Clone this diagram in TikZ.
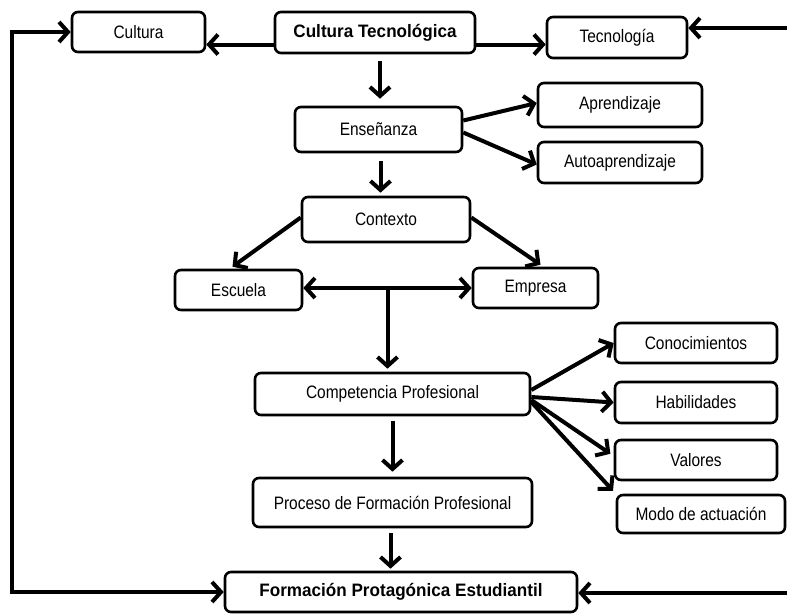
\documentclass[tikz,border=0pt]{standalone}
\usepackage{fontspec}
\setmainfont{Liberation Sans}[FakeStretch=0.86]
\newfontfamily\negrita{Liberation Sans}[FakeStretch=0.95]
\usetikzlibrary{arrows.meta,calc}
\begin{document}
\begin{tikzpicture}[x=1pt,y=-1pt,
	caja/.style={draw,line width=2.6pt,rounded corners=6pt,inner sep=0pt,
		font=\fontsize{18}{20}\selectfont},
	flecha/.style={line width=4pt,-{Straight Barb[length=9pt,width=20pt]}},
	dflecha/.style={line width=4pt,
		{Straight Barb[length=9pt,width=20pt]}-{Straight Barb[length=9pt,width=20pt]}}]
	\useasboundingbox (0,0) rectangle (787,614);
	\foreach \n/\x/\y/\w/\h/\texn in {cul/138.5/32/133/40/Cultura,
	ct/375/32.5/200/41/{\negrita\bfseries Cultura Tecnológica},
	tec/617/37.5/140/41/Tecnología,
	ens/378.5/129.5/167/45/Enseñanza,
	apr/620/105/164/44/Aprendizaje,
	aut/620/162.5/164/41/Autoaprendizaje,
	con/386/219.5/168/45/Contexto,
	esc/238.5/290/127/40/Escuela,
	emp/535.5/288/125/40/Empresa,
	com/392.5/394/275/42/Competencia Profesional,
	cono/696/343/162/40/Conocimientos,
	hab/696/402.5/162/41/Habilidades,
	val/696/460/162/40/Valores,
	modo/701/514/168/38/Modo de actuación,
	pro/392.5/502.5/279/49/Proceso de Formación Profesional,
	fpe/401/592/352/40/{\negrita\bfseries Formación Protagónica Estudiantil}}
	\path (\x,\y) node[caja,minimum width=\w,minimum height=\h](\n){\texn};
	\draw[flecha] ([yshift=-12pt]ct.west) -- ([yshift=-12pt]ct.west -| cul.east);
	\draw[flecha] ([yshift=-12pt]ct.east) -- ([yshift=-12pt]ct.east -| tec.west);
	\coordinate (rt) at (787,28);
	\draw[flecha] (rt) -- (rt -| tec.east);
	\draw[flecha,shorten <=7pt,shorten >=7pt] ([xshift=5pt]ct.south) -- ([xshift=5pt]ct.south |- ens.north);
	\draw[flecha,shorten <=8pt,shorten >=3pt] ([xshift=2pt]ens.south) -- ([xshift=2pt]ens.south |- con.north);
	\draw[flecha] ([yshift=9pt]ens.east) -- ([yshift=2pt]apr.west);
	\draw[flecha] ([yshift=-3pt]ens.east) -- ([yshift=-2pt]aut.west);
	\draw[flecha] ([yshift=2pt]con.west) -- ([xshift=-6pt,yshift=2pt]esc.north);
	\draw[flecha] ([yshift=2pt]con.east) -- ([xshift=5pt,yshift=2pt]emp.north);
	\draw[dflecha] ([yshift=2pt]esc.east) -- (emp.west);
	\coordinate (m) at ($(esc.east)!0.5!(emp.west)$);
	\draw[flecha,shorten >=3pt] (m) -- (m |- com.north);
	\draw[flecha] ([yshift=4pt]com.east) -- (cono.west);
	\draw[flecha] ([yshift=-3pt]com.east) -- (hab.west);
	\draw[flecha,shorten >=4pt] ([yshift=-6pt]com.east) -- ([yshift=4pt]val.west);
	\draw[flecha,shorten >=4pt] ([yshift=-8pt]com.east) -- (modo.north west);
	\draw[flecha,shorten <=5pt,shorten >=5pt] (com.south) -- (pro.north);
	\draw[flecha,shorten <=5pt,shorten >=2pt] ([xshift=-2pt]pro.south) -- ([xshift=-2pt]pro.south |- fpe.north);
	\coordinate (lb) at (12,592);
	\draw[dflecha] (fpe.west) -- (lb) |- (cul.west);
	\coordinate (rb) at (787,593);
	\draw[flecha] (rb) -- (rb -| fpe.east);
\end{tikzpicture}
\end{document}
